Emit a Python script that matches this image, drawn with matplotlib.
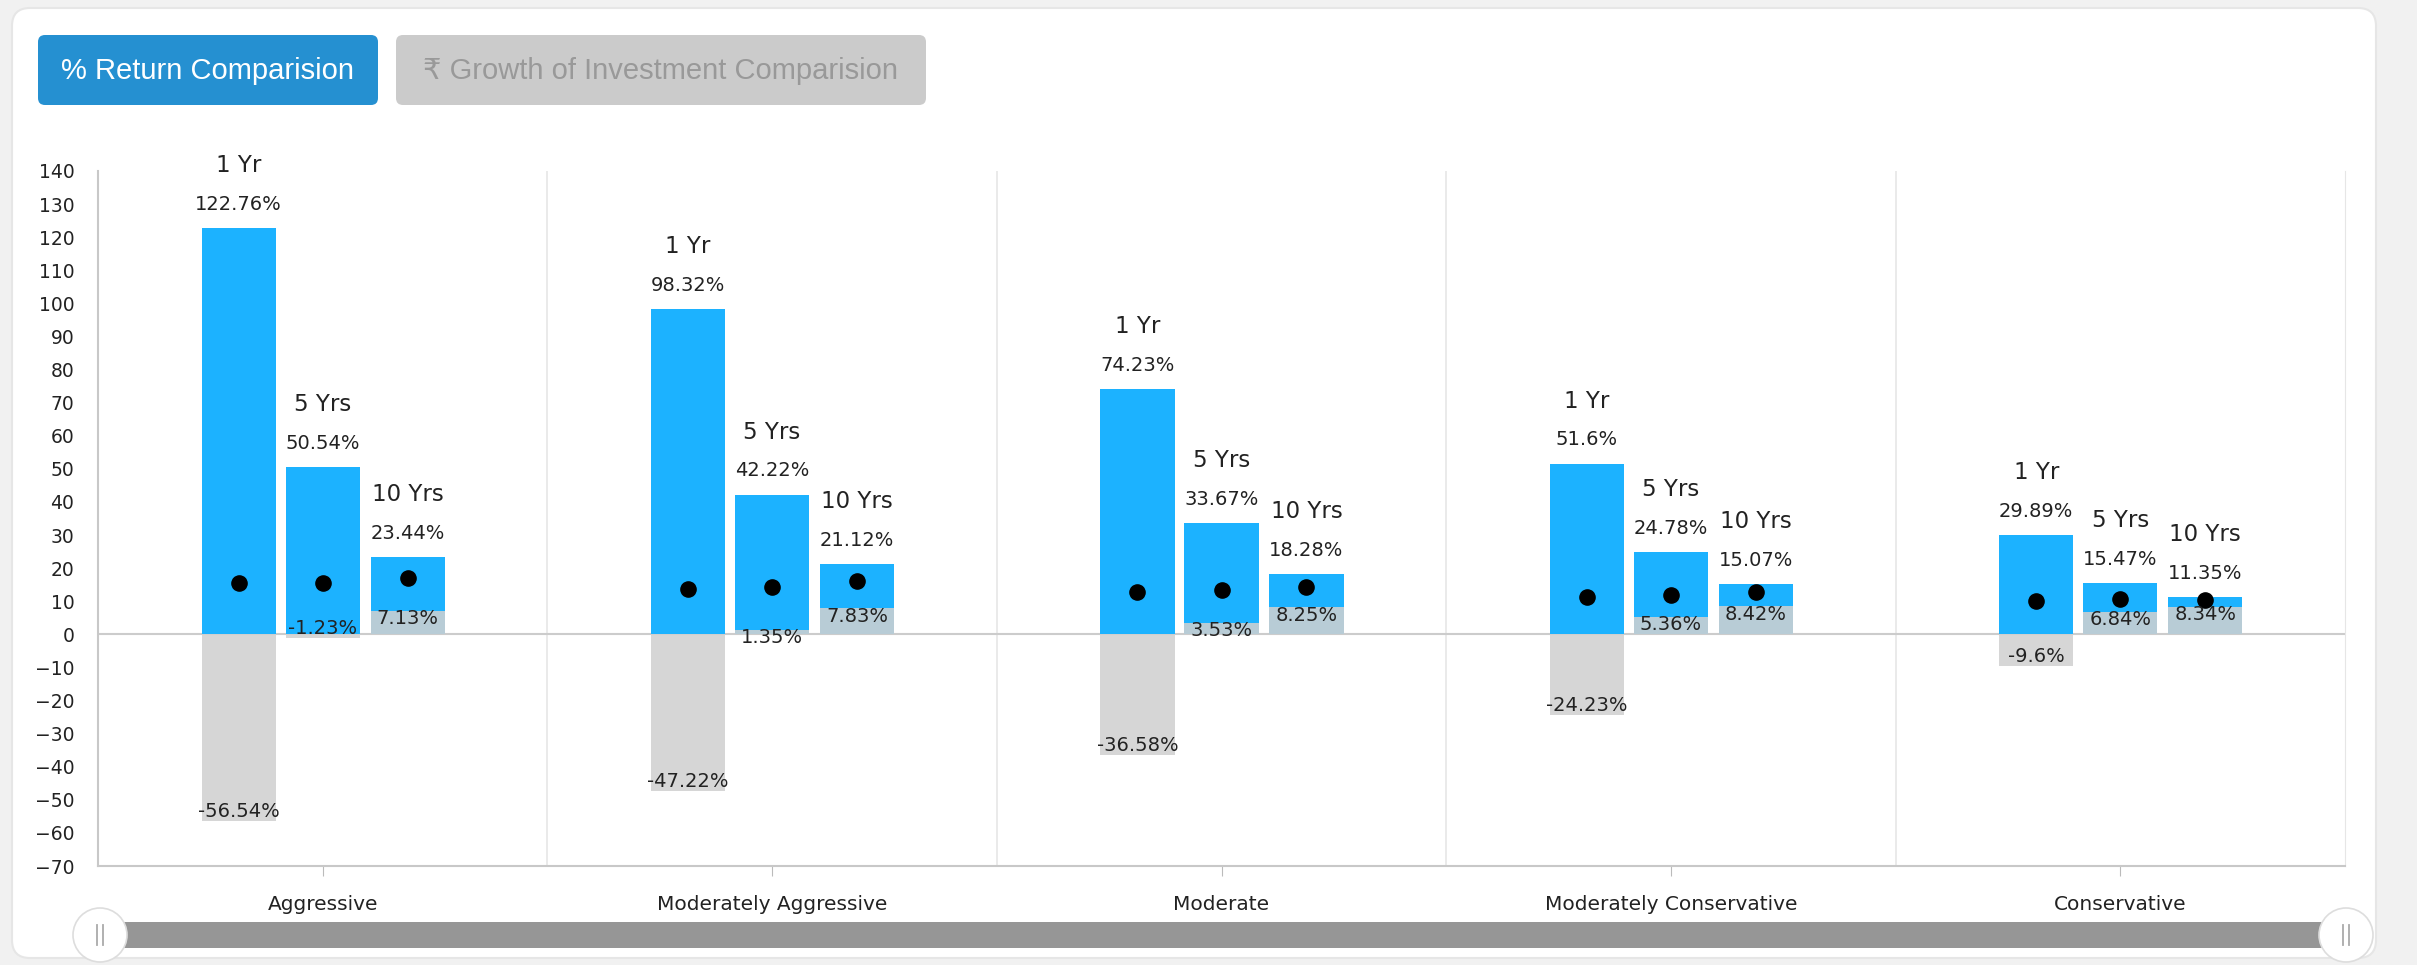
import numpy as np
import matplotlib
matplotlib.use("Agg")
import matplotlib.pyplot as plt
from matplotlib.patches import FancyBboxPatch, Rectangle, Circle

# Risk profiles and holding periods
categories = ["Aggressive", "Moderately Aggressive", "Moderate",
              "Moderately Conservative", "Conservative"]
periods = ["1 Yr", "5 Yrs", "10 Yrs"]

# Highest return (%) per profile
best_1yr = [122.76, 98.32, 74.23, 51.6, 29.89]
best_5yr = [50.54, 42.22, 33.67, 24.78, 15.47]
best_10yr = [23.44, 21.12, 18.28, 15.07, 11.35]

# Lowest return (%) per profile
worst_1yr = [-56.54, -47.22, -36.58, -24.23, -9.6]
worst_5yr = [-1.23, 1.35, 3.53, 5.36, 6.84]
worst_10yr = [7.13, 7.83, 8.25, 8.42, 8.34]

# Average return (%) per profile (the black dots)
avg_1yr = [15.6, 13.8, 12.8, 11.4, 10.0]
avg_5yr = [15.6, 14.3, 13.3, 12.0, 10.6]
avg_10yr = [17.0, 16.2, 14.3, 12.7, 10.5]

W, H = 2417, 965
fig = plt.figure(figsize=(W / 100, H / 100), dpi=100)

# page background, card, buttons and slider in pixel coordinates
bg = fig.add_axes([0, 0, 1, 1])
bg.set_xlim(0, W)
bg.set_ylim(H, 0)
bg.axis("off")
bg.add_patch(Rectangle((0, 0), W, H, color="#f1f1f1"))
bg.add_patch(FancyBboxPatch((12, 8), 2364, 950, boxstyle="round,pad=0,rounding_size=18",
                            fc="white", ec="#e6e6e6", lw=1.5))

btn_font = ["Liberation Sans", "DejaVu Sans"]
bg.add_patch(FancyBboxPatch((38, 35), 340, 70, boxstyle="round,pad=0,rounding_size=7",
                            fc="#2590d1", ec="none"))
bg.text(208, 71, "% Return Comparision", color="white", fontsize=21,
        family=btn_font, ha="center", va="center")
bg.add_patch(FancyBboxPatch((396, 35), 530, 70, boxstyle="round,pad=0,rounding_size=7",
                            fc="#cbcbcb", ec="none"))
bg.text(661, 71, "\u20b9 Growth of Investment Comparision", color="#999999", fontsize=21,
        family=btn_font, ha="center", va="center")

bg.add_patch(Rectangle((100, 922), 2246, 26, fc="#969696", ec="none"))
for cx in (100, 2346):
    bg.add_patch(Circle((cx, 935), 27, fc="white", ec="#dddddd", lw=1.2, zorder=3))
    bg.plot([cx - 3, cx - 3], [925, 945], color="#aaaaaa", lw=1.3, zorder=4)
    bg.plot([cx + 3, cx + 3], [925, 945], color="#aaaaaa", lw=1.3, zorder=4)

# chart
ax = fig.add_axes([98 / W, (H - 866) / H, (2345 - 98) / W, (866 - 171) / H])
ax.set_xlim(-0.5, 4.5)
ax.set_ylim(-70, 140)

x = np.arange(len(categories))
offsets = [-0.187, 0.0, 0.189]
width = 0.165
best = [best_1yr, best_5yr, best_10yr]
worst = [worst_1yr, worst_5yr, worst_10yr]
avg = [avg_1yr, avg_5yr, avg_10yr]

for i, period in enumerate(periods):
    xs = x + offsets[i]
    ax.bar(xs, best[i], width, color="#1cb2ff", zorder=2)
    ax.bar(xs, worst[i], width, color="#d0d0d0", alpha=0.87, zorder=3)
    ax.scatter(xs, avg[i], s=120, color="black", zorder=5)
    for xi, hi, lo in zip(xs, best[i], worst[i]):
        ax.annotate(f"{hi:g}%", (xi, hi), xytext=(0, 17), textcoords="offset points",
                    ha="center", va="center", fontsize=14, color="#222222")
        ax.annotate(period, (xi, hi), xytext=(0, 45), textcoords="offset points",
                    ha="center", va="center", fontsize=16.5, color="#222222")
        if lo < 0:
            ax.annotate(f"{lo:g}%", (xi, lo), xytext=(0, 0), textcoords="offset points",
                        ha="center", va="bottom", fontsize=14, color="#222222", zorder=6)
        else:
            ax.annotate(f"{lo:g}%", (xi, lo), xytext=(0, 1), textcoords="offset points",
                        ha="center", va="top", fontsize=14, color="#222222", zorder=6)

ax.axhline(0, color="#cccccc", lw=1.5, zorder=1)
for sep in [0.5, 1.5, 2.5, 3.5]:
    ax.axvline(sep, color="#e6e6e6", lw=1.2, zorder=0)

ax.spines["top"].set_visible(False)
ax.spines["right"].set_color("#e6e6e6")
ax.spines["left"].set_color("#c8c8c8")
ax.spines["bottom"].set_color("#c8c8c8")
ax.spines["left"].set_linewidth(1.5)
ax.spines["bottom"].set_linewidth(1.5)

ax.set_yticks(range(-70, 141, 10))
ax.tick_params(axis="y", length=0, pad=17, labelsize=13.5, labelcolor="#222222")
ax.set_xticks(x)
ax.set_xticklabels(categories)
ax.tick_params(axis="x", length=7, color="#bbbbbb", pad=14, labelsize=14.5, labelcolor="#222222")

fig.savefig("out.png", dpi=100)
